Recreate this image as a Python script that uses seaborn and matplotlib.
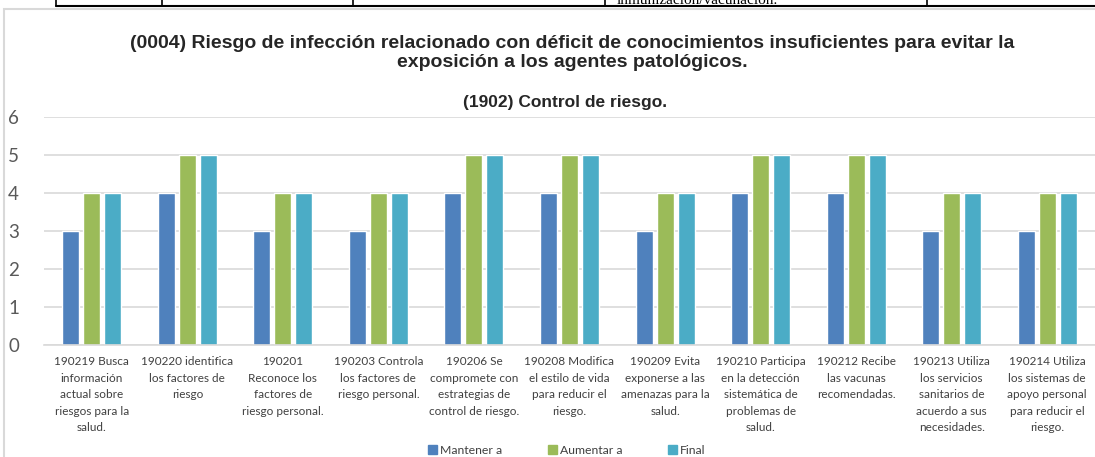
import numpy as np
import pandas as pd
import matplotlib
matplotlib.use("Agg")
import matplotlib.pyplot as plt
from matplotlib.patches import Rectangle
from matplotlib.lines import Line2D
import seaborn as sns

# ================= DATA =================
CATEGORIES = [
    "190219 Busca\ninformación\nactual sobre\nriesgos para la\nsalud.",
    "190220 identifica\nlos factores de\nriesgo",
    "190201\nReconoce los\nfactores de\nriesgo personal.",
    "190203 Controla\nlos factores de\nriesgo personal.",
    "190206 Se\ncompromete con\nestrategias de\ncontrol de riesgo.",
    "190208 Modifica\nel estilo de vida\npara reducir el\nriesgo.",
    "190209 Evita\nexponerse a las\namenazas para la\nsalud.",
    "190210 Participa\nen la detección\nsistemática de\nproblemas de\nsalud.",
    "190212 Recibe\nlas vacunas\nrecomendadas.",
    "190213 Utiliza\nlos servicios\nsanitarios de\nacuerdo a sus\nnecesidades.",
    "190214 Utiliza\nlos sistemas de\napoyo personal\npara reducir el\nriesgo.",
]
SERIES = ["Mantener a", "Aumentar a", "Final"]
MANTENER = [3, 4, 3, 3, 4, 4, 3, 4, 4, 3, 3]
AUMENTAR = [4, 5, 4, 4, 5, 5, 4, 5, 5, 4, 4]
FINAL = [4, 5, 4, 4, 5, 5, 4, 5, 5, 4, 4]
COLORS = ["#4F81BD", "#9BBB59", "#4BACC6"]

TITLE = ("(0004) Riesgo de infección relacionado con déficit de conocimientos insuficientes para evitar la\n"
         "exposición a los agentes patológicos.")
SUBTITLE = "(1902) Control de riesgo."

# ================= FRAME =================
df = pd.DataFrame({
    "categoria": CATEGORIES * 3,
    "serie": [s for s in SERIES for _ in CATEGORIES],
    "valor": MANTENER + AUMENTAR + FINAL,
})

W, H = 1095, 457
fig = plt.figure(figsize=(W / 100, H / 100), dpi=100)
sns.set_style("white")
plt.rcParams["font.family"] = ["Lato", "DejaVu Sans"]

# chart border + bits of the table above it
fig.add_artist(Rectangle((4 / W, -0.1), 1.2, 1 - 9 / H + 0.1, transform=fig.transFigure,
                         fill=False, edgecolor="#D9D9D9", linewidth=1.5))
fig.add_artist(Line2D([56 / W, 1.0], [1 - 6 / H] * 2, transform=fig.transFigure,
                      color="black", linewidth=1.5))
for x in [56, 162, 353, 605, 927]:
    fig.add_artist(Line2D([x / W] * 2, [1 - 6 / H, 1.0], transform=fig.transFigure,
                          color="black", linewidth=1.2))
fig.text(617 / W, 1 - 1 / H, "inmunización/vacunación.", family="Liberation Serif",
         fontsize=11, va="center", ha="left", color="black")

# ================= AXES =================
ax = fig.add_axes([44 / W, 112 / H, (1095 - 44) / W, (345 - 117) / H])
sns.barplot(data=df, x="categoria", y="valor", hue="serie", palette=COLORS,
            width=0.66, gap=0.19, ax=ax, legend=False, saturation=1)

ax.set_ylim(0, 6)
ax.set_xlim(-0.5, len(CATEGORIES) - 0.5)
ax.set_yticks(range(7))
ax.yaxis.grid(True, color="#D9D9D9", linewidth=1.2)
ax.set_axisbelow(True)
for s in ["top", "right", "left"]:
    ax.spines[s].set_visible(False)
ax.spines["bottom"].set_color("#D9D9D9")
ax.spines["bottom"].set_linewidth(1.2)
ax.set_xlabel("")
ax.set_ylabel("")
ax.tick_params(axis="both", length=0)
ax.tick_params(axis="y", labelsize=13.5, labelcolor="#595959", pad=18)
ax.tick_params(axis="x", labelsize=8.5, labelcolor="#404040", pad=8)
for lbl in ax.get_xticklabels():
    lbl.set_linespacing(1.62)
    lbl.set_ha("center")

# ================= TITLES =================
fig.text(572 / W, 1 - 53 / H, TITLE, ha="center", va="center", fontsize=14,
         fontweight="bold", family="Liberation Sans", linespacing=1.2)
fig.text(565 / W, 1 - 103 / H, SUBTITLE, ha="center", va="center", fontsize=12.5,
         fontweight="bold", family="Liberation Sans")

# ================= LEGEND =================
handles = [Rectangle((0, 0), 1, 1, color=c) for c in COLORS]
fig.legend(handles, SERIES, loc="center", bbox_to_anchor=(567 / W, 1 - 450 / H), ncol=3,
           frameon=False, fontsize=8.8, handlelength=0.72, handleheight=0.72,
           handletextpad=0.25, columnspacing=3.75, labelcolor="#404040")

fig.savefig("out.png", dpi=100)
